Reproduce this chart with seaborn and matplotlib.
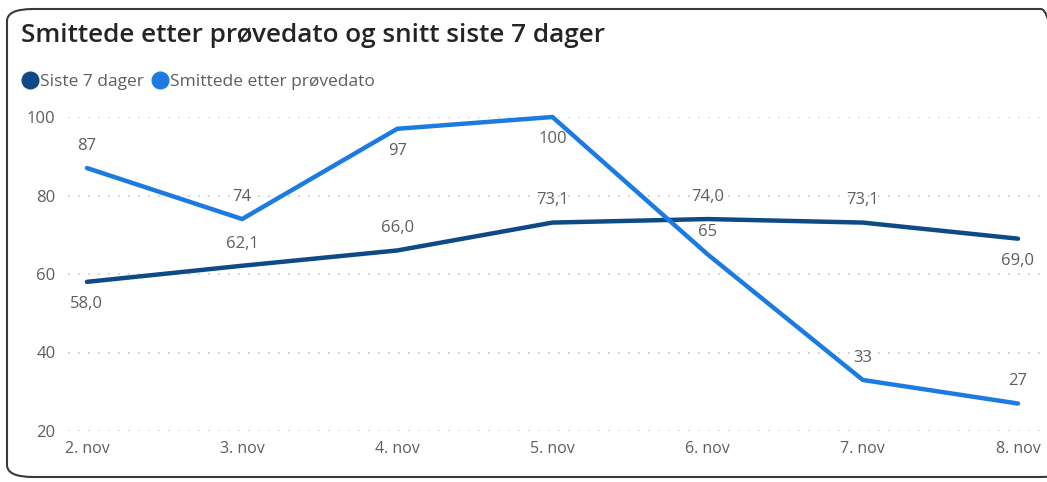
import pandas as pd
import matplotlib.pyplot as plt
import seaborn as sns
from matplotlib.lines import Line2D
from matplotlib.patches import FancyBboxPatch

dates = ['2. nov', '3. nov', '4. nov', '5. nov', '6. nov', '7. nov', '8. nov']
snitt_7 = [58.0, 62.1, 66.0, 73.1, 74.0, 73.1, 69.0]
smittede = [87, 74, 97, 100, 65, 33, 27]
# label placement: 1 = above, -1 = below
snitt_pos = [-1, 1, 1, 1, 1, 1, -1]
smittede_pos = [1, 1, -1, -1, 1, 1, 1]

navy = '#0d4a86'
blue = '#1b7be0'
grey = '#605e5c'

df = pd.DataFrame({
    'x': list(range(len(dates))) * 2,
    'value': snitt_7 + smittede,
    'serie': ['Siste 7 dager'] * len(dates) + ['Smittede etter prøvedato'] * len(dates),
})

sns.set_style('white')
plt.rcParams['font.family'] = ['Open Sans', 'DejaVu Sans']

fig = plt.figure(figsize=(10.47, 4.82), dpi=100)
ax = fig.add_axes([68 / 1047, 51 / 482, 972 / 1047, 314 / 482])

sns.lineplot(data=df, x='x', y='value', hue='serie',
             palette={'Siste 7 dager': navy, 'Smittede etter prøvedato': blue},
             linewidth=3.2, legend=False, ax=ax, clip_on=False)

for i, (v, p) in enumerate(zip(snitt_7, snitt_pos)):
    ax.annotate(f'{v:.1f}'.replace('.', ','), (i, v), xytext=(0, 16 * p),
                textcoords='offset points', ha='center', va='center',
                fontsize=12, color=grey)
for i, (v, p) in enumerate(zip(smittede, smittede_pos)):
    ax.annotate(str(v), (i, v), xytext=(0, 16 * p),
                textcoords='offset points', ha='center', va='center',
                fontsize=12, color=grey)

ax.set_xlim(-0.122, 6.142)
ax.set_ylim(20, 100)
ax.set_yticks([20, 40, 60, 80, 100])
ax.set_xticks(range(len(dates)))
ax.set_xticklabels(dates)
ax.yaxis.grid(True, linestyle=(0, (1, 5)), color='#c8c6c4', linewidth=1.2)
ax.tick_params(axis='y', length=0, pad=9, labelsize=12, labelcolor=grey)
ax.tick_params(axis='x', length=0, pad=7, labelsize=11.5, labelcolor=grey)
ax.set_xlabel('')
ax.set_ylabel('')
for s in ax.spines.values():
    s.set_visible(False)

fig.text(21 / 1047, 1 - 36 / 482, 'Smittede etter prøvedato og snitt siste 7 dager',
         fontsize=18.8, fontweight='semibold', color='#252423', va='center',
         family=['Open Sans', 'DejaVu Sans'])

handles = [Line2D([], [], marker='o', linestyle='', markersize=12, color=navy),
           Line2D([], [], marker='o', linestyle='', markersize=12, color=blue)]
fig.legend(handles, ['Siste 7 dager', 'Smittede etter prøvedato'],
           loc='center left', bbox_to_anchor=(14 / 1047, 1 - 82 / 482), ncol=2,
           frameon=False, fontsize=12.5, handletextpad=0.0, columnspacing=0.4,
           labelcolor=grey, borderaxespad=0, handlelength=1.1)

fig.patches.append(FancyBboxPatch((7 / 1047, 5 / 482), 1060 / 1047, 468 / 482,
                                  boxstyle='round,pad=0,rounding_size=0.025',
                                  transform=fig.transFigure, fill=False,
                                  edgecolor='#3b3a39', linewidth=1.5))

fig.savefig('out.png', dpi=100)
